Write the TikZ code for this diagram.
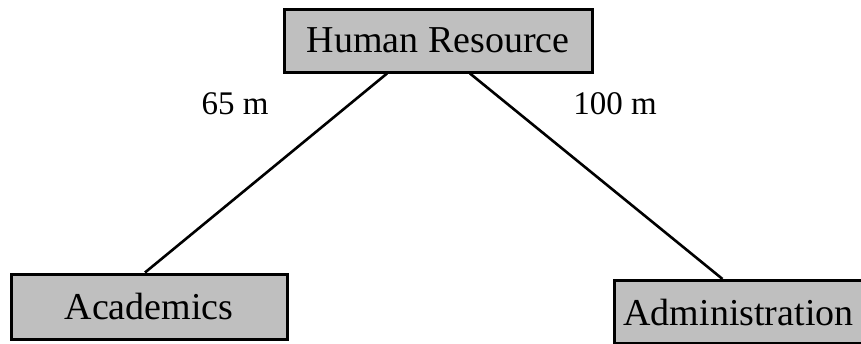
\documentclass[tikz,border=0pt]{standalone}
\usepackage{fontspec}
\setmainfont{Liberation Serif}
\begin{document}
\begin{tikzpicture}[x=1pt,y=-1pt,
  box/.style={draw=black, line width=3pt, fill=black!25, inner sep=0pt,
    font=\fontsize{38}{42}\selectfont},
  lbl/.style={font=\fontsize{33}{38}\selectfont, inner sep=0pt},
  link/.style={line width=2.6pt, draw=black}]
\useasboundingbox (0,0) rectangle (861,343);
\node[box, minimum width=308pt, minimum height=63pt] (hr) at (438,40.5) {Human Resource};
\node[box, minimum width=276pt, minimum height=65pt] (acad) at (149,306.5) {Academics};
\node[box, minimum width=248pt, minimum height=63pt, anchor=north west] (admin) at (613,279) {Administration};
\draw[link] ([xshift=-51pt]hr.south) -- ([xshift=-4pt]acad.north);
\draw[link] ([xshift=32pt]hr.south) -- ([xshift=-16pt]admin.north);
\node[lbl] (l1) at (235,104) {65 m};
\node[lbl] (l2) at (615,104) {100 m};
\end{tikzpicture}
\end{document}
